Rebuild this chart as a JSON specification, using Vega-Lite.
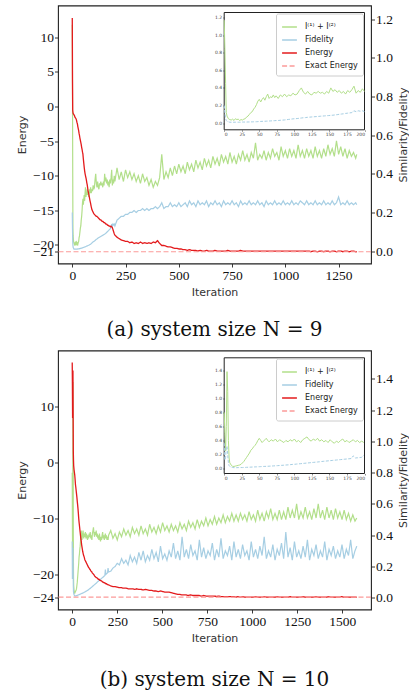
{
"$schema":"https://vega.github.io/schema/vega-lite/v6.json",
"background":"white",
"padding":{"left":15,"top":4.5,"right":0,"bottom":0},
"spacing":9,
"config":{
 "view":{"stroke":"#222","strokeWidth":1.1},
 "axis":{"domain":false,"grid":false,"tickColor":"#222","tickSize":3.5,"tickWidth":0.9,"labelFont":"Liberation Serif","labelFontSize":13.5,"labelColor":"#111","labelPadding":1,"titleFont":"DejaVu Sans","titleFontSize":11,"titleFontWeight":"normal","titleColor":"#333","titlePadding":5,"labelOverlap":false},
 "legend":{"symbolType":"stroke","symbolStrokeWidth":1.4,"symbolSize":220,"labelFont":"DejaVu Sans","labelFontSize":8,"labelColor":"#222","rowPadding":-1.5,"padding":5,"fillColor":"white","strokeColor":"#cccccc","cornerRadius":2,"labelOffset":7,"labelLimit":200},
 "title":{"font":"DejaVu Serif","fontSize":20,"fontWeight":"normal","color":"#111"}
},
"resolve":{"scale":{"color":"independent","strokeDash":"independent"},"legend":{"color":"independent","strokeDash":"independent"}},
"datasets":{
"a":[
{"i":0,"e":12.8,"s":1.17,"f":0.2},{"i":1,"e":4.0,"s":0.85,"f":0.12},{"i":2,"e":-0.5,"s":0.45,"f":0.05},{"i":3,"e":-0.8,"s":0.12,"f":0.03},{"i":4,"e":-1.0,"s":0.08,"f":0.02},{"i":6,"e":-1.1,"s":0.05,"f":0.015},{"i":8,"e":-1.2,"s":0.04,"f":0.01},{"i":10,"e":-1.3,"s":0.035,"f":0.01},{"i":12,"e":-1.5,"s":0.045,"f":0.01},{"i":14,"e":-1.6,"s":0.03,"f":0.01},{"i":16,"e":-1.7,"s":0.05,"f":0.01},{"i":18,"e":-1.8,"s":0.04,"f":0.01},{"i":20,"e":-2.0,"s":0.045,"f":0.01},{"i":22,"e":-2.3,"s":0.03,"f":0.01},{"i":24,"e":-2.5,"s":0.04,"f":0.01},{"i":26,"e":-2.9,"s":0.035,"f":0.012},{"i":28,"e":-3.2,"s":0.045,"f":0.012},{"i":30,"e":-3.5,"s":0.05,"f":0.012},{"i":32,"e":-3.9,"s":0.07,"f":0.012},{"i":34,"e":-4.2,"s":0.08,"f":0.013},{"i":36,"e":-4.6,"s":0.1,"f":0.013},{"i":38,"e":-4.9,"s":0.12,"f":0.014},{"i":40,"e":-5.2,"s":0.13,"f":0.014},{"i":42,"e":-5.5,"s":0.16,"f":0.015},{"i":44,"e":-5.9,"s":0.18,"f":0.015},{"i":46,"e":-6.2,"s":0.21,"f":0.016},{"i":48,"e":-6.6,"s":0.25,"f":0.017},{"i":50,"e":-6.9,"s":0.27,"f":0.018},{"i":52,"e":-7.6,"s":0.24,"f":0.019},{"i":54,"e":-8.2,"s":0.27,"f":0.02},{"i":56,"e":-8.8,"s":0.29,"f":0.02},{"i":58,"e":-9.3,"s":0.26,"f":0.021},{"i":60,"e":-9.7,"s":0.3,"f":0.022},{"i":62,"e":-10.0,"s":0.33,"f":0.023},{"i":64,"e":-10.3,"s":0.28,"f":0.024},{"i":66,"e":-10.6,"s":0.3,"f":0.025},{"i":68,"e":-11.0,"s":0.29,"f":0.026},{"i":70,"e":-11.3,"s":0.32,"f":0.027},{"i":72,"e":-11.7,"s":0.29,"f":0.028},{"i":74,"e":-12.2,"s":0.31,"f":0.029},{"i":77,"e":-12.6,"s":0.28,"f":0.03},{"i":80,"e":-13.1,"s":0.32,"f":0.032},{"i":83,"e":-13.6,"s":0.3,"f":0.034},{"i":86,"e":-14.0,"s":0.33,"f":0.036},{"i":89,"e":-14.5,"s":0.3,"f":0.039},{"i":92,"e":-14.9,"s":0.32,"f":0.042},{"i":95,"e":-15.1,"s":0.31,"f":0.045},{"i":98,"e":-15.3,"s":0.34,"f":0.048},{"i":101,"e":-15.5,"s":0.32,"f":0.05},{"i":104,"e":-15.6,"s":0.33,"f":0.052},{"i":107,"e":-15.7,"s":0.37,"f":0.055},{"i":110,"e":-15.8,"s":0.4,"f":0.058},{"i":113,"e":-15.9,"s":0.35,"f":0.061},{"i":116,"e":-15.9,"s":0.33,"f":0.063},{"i":119,"e":-16.0,"s":0.36,"f":0.066},{"i":122,"e":-16.1,"s":0.33,"f":0.068},{"i":125,"e":-16.2,"s":0.32,"f":0.07},{"i":128,"e":-16.3,"s":0.35,"f":0.072},{"i":131,"e":-16.4,"s":0.34,"f":0.074},{"i":134,"e":-16.4,"s":0.36,"f":0.076},{"i":137,"e":-16.5,"s":0.34,"f":0.078},{"i":140,"e":-16.6,"s":0.35,"f":0.08},{"i":143,"e":-16.6,"s":0.33,"f":0.082},{"i":146,"e":-16.7,"s":0.36,"f":0.084},{"i":149,"e":-16.8,"s":0.34,"f":0.086},{"i":152,"e":-16.8,"s":0.4,"f":0.088},{"i":155,"e":-16.9,"s":0.36,"f":0.09},{"i":158,"e":-17.0,"s":0.38,"f":0.093},{"i":161,"e":-17.0,"s":0.35,"f":0.096},{"i":164,"e":-17.1,"s":0.37,"f":0.1},{"i":167,"e":-17.2,"s":0.34,"f":0.103},{"i":170,"e":-17.2,"s":0.36,"f":0.106},{"i":173,"e":-17.3,"s":0.33,"f":0.11},{"i":176,"e":-17.3,"s":0.37,"f":0.113},{"i":179,"e":-17.4,"s":0.35,"f":0.116},{"i":182,"e":-17.3,"s":0.38,"f":0.12},{"i":185,"e":-17.4,"s":0.42,"f":0.14},{"i":188,"e":-17.5,"s":0.34,"f":0.13},{"i":191,"e":-17.8,"s":0.37,"f":0.14},{"i":194,"e":-18.1,"s":0.35,"f":0.135},{"i":197,"e":-18.4,"s":0.39,"f":0.14},{"i":200,"e":-18.6,"s":0.36,"f":0.13},
{"i":210,"e":-18.9,"s":0.43,"f":0.16},{"i":220,"e":-19.1,"s":0.37,"f":0.17},{"i":230,"e":-19.3,"s":0.41,"f":0.18},{"i":240,"e":-19.4,"s":0.36,"f":0.18},{"i":250,"e":-19.5,"s":0.42,"f":0.19},{"i":260,"e":-19.5,"s":0.38,"f":0.19},{"i":270,"e":-19.7,"s":0.41,"f":0.2},{"i":280,"e":-19.6,"s":0.37,"f":0.2},{"i":290,"e":-19.8,"s":0.4,"f":0.21},{"i":300,"e":-19.7,"s":0.36,"f":0.2},{"i":310,"e":-19.8,"s":0.39,"f":0.21},{"i":320,"e":-19.6,"s":0.35,"f":0.21},{"i":330,"e":-19.8,"s":0.4,"f":0.22},{"i":340,"e":-19.7,"s":0.36,"f":0.21},{"i":350,"e":-19.8,"s":0.38,"f":0.22},{"i":360,"e":-19.7,"s":0.34,"f":0.21},{"i":370,"e":-19.8,"s":0.37,"f":0.22},{"i":380,"e":-19.6,"s":0.33,"f":0.22},{"i":390,"e":-19.7,"s":0.36,"f":0.23},{"i":400,"e":-19.4,"s":0.34,"f":0.22},{"i":410,"e":-19.8,"s":0.38,"f":0.23},{"i":420,"e":-20.1,"s":0.5,"f":0.25},{"i":430,"e":-20.1,"s":0.37,"f":0.22},{"i":440,"e":-20.2,"s":0.41,"f":0.23},{"i":450,"e":-20.3,"s":0.38,"f":0.23},{"i":460,"e":-20.3,"s":0.43,"f":0.25},{"i":470,"e":-20.4,"s":0.39,"f":0.23},{"i":480,"e":-20.5,"s":0.44,"f":0.24},{"i":490,"e":-20.5,"s":0.4,"f":0.23},
{"i":500,"e":-20.6,"s":0.45,"f":0.25},{"i":510,"e":-20.6,"s":0.41,"f":0.23},{"i":520,"e":-20.7,"s":0.44,"f":0.24},{"i":530,"e":-20.7,"s":0.4,"f":0.25},{"i":540,"e":-20.8,"s":0.46,"f":0.23},{"i":550,"e":-20.7,"s":0.42,"f":0.26},{"i":560,"e":-20.8,"s":0.45,"f":0.24},{"i":570,"e":-20.8,"s":0.41,"f":0.25},{"i":580,"e":-20.8,"s":0.47,"f":0.23},{"i":590,"e":-20.9,"s":0.43,"f":0.26},{"i":600,"e":-20.8,"s":0.46,"f":0.24},{"i":610,"e":-20.9,"s":0.42,"f":0.25},{"i":620,"e":-20.9,"s":0.48,"f":0.24},{"i":630,"e":-20.8,"s":0.44,"f":0.26},{"i":640,"e":-20.9,"s":0.47,"f":0.23},{"i":650,"e":-20.9,"s":0.43,"f":0.25},{"i":660,"e":-20.9,"s":0.49,"f":0.24},{"i":670,"e":-20.8,"s":0.45,"f":0.26},{"i":680,"e":-20.9,"s":0.48,"f":0.24},{"i":690,"e":-20.9,"s":0.44,"f":0.25},{"i":700,"e":-20.9,"s":0.5,"f":0.23},{"i":710,"e":-20.9,"s":0.46,"f":0.26},{"i":720,"e":-20.9,"s":0.49,"f":0.24},{"i":730,"e":-20.8,"s":0.45,"f":0.25},{"i":740,"e":-20.9,"s":0.51,"f":0.24},{"i":750,"e":-20.9,"s":0.46,"f":0.26},{"i":760,"e":-20.9,"s":0.49,"f":0.24},{"i":770,"e":-20.9,"s":0.45,"f":0.25},{"i":780,"e":-20.9,"s":0.5,"f":0.23},{"i":790,"e":-20.8,"s":0.47,"f":0.26},{"i":800,"e":-20.9,"s":0.52,"f":0.24},{"i":810,"e":-20.9,"s":0.47,"f":0.25},{"i":820,"e":-20.9,"s":0.5,"f":0.24},{"i":830,"e":-20.9,"s":0.46,"f":0.26},{"i":840,"e":-20.9,"s":0.51,"f":0.24},{"i":850,"e":-20.9,"s":0.48,"f":0.25},{"i":860,"e":-20.9,"s":0.56,"f":0.24},{"i":870,"e":-20.9,"s":0.47,"f":0.26},{"i":880,"e":-20.9,"s":0.5,"f":0.24},{"i":890,"e":-20.9,"s":0.48,"f":0.25},{"i":900,"e":-20.9,"s":0.52,"f":0.23},{"i":910,"e":-20.9,"s":0.47,"f":0.26},{"i":920,"e":-20.9,"s":0.51,"f":0.24},{"i":930,"e":-20.9,"s":0.48,"f":0.25},{"i":940,"e":-20.9,"s":0.53,"f":0.24},{"i":950,"e":-20.9,"s":0.49,"f":0.26},{"i":960,"e":-20.9,"s":0.51,"f":0.24},{"i":970,"e":-20.9,"s":0.47,"f":0.25},{"i":980,"e":-20.9,"s":0.54,"f":0.24},{"i":990,"e":-20.9,"s":0.49,"f":0.26},{"i":1000,"e":-20.9,"s":0.52,"f":0.24},{"i":1010,"e":-20.9,"s":0.48,"f":0.25},{"i":1020,"e":-20.9,"s":0.53,"f":0.24},{"i":1030,"e":-20.9,"s":0.49,"f":0.26},{"i":1040,"e":-20.9,"s":0.52,"f":0.24},{"i":1050,"e":-20.9,"s":0.48,"f":0.25},{"i":1060,"e":-20.9,"s":0.55,"f":0.24},{"i":1070,"e":-20.9,"s":0.49,"f":0.26},{"i":1080,"e":-20.9,"s":0.52,"f":0.25},{"i":1090,"e":-20.9,"s":0.48,"f":0.24},{"i":1100,"e":-20.9,"s":0.53,"f":0.26},{"i":1110,"e":-20.9,"s":0.49,"f":0.24},{"i":1120,"e":-21.0,"s":0.52,"f":0.25},{"i":1130,"e":-20.9,"s":0.48,"f":0.24},{"i":1140,"e":-20.9,"s":0.54,"f":0.26},{"i":1150,"e":-21.0,"s":0.49,"f":0.24},{"i":1160,"e":-20.9,"s":0.52,"f":0.25},{"i":1170,"e":-20.9,"s":0.48,"f":0.24},{"i":1180,"e":-21.0,"s":0.53,"f":0.26},{"i":1190,"e":-20.9,"s":0.49,"f":0.24},{"i":1200,"e":-20.9,"s":0.55,"f":0.25},{"i":1210,"e":-21.0,"s":0.5,"f":0.24},{"i":1220,"e":-20.9,"s":0.53,"f":0.26},{"i":1230,"e":-20.9,"s":0.49,"f":0.24},{"i":1240,"e":-21.0,"s":0.57,"f":0.25},{"i":1250,"e":-20.9,"s":0.5,"f":0.28},{"i":1260,"e":-20.9,"s":0.54,"f":0.24},{"i":1270,"e":-21.0,"s":0.49,"f":0.25},{"i":1280,"e":-20.9,"s":0.53,"f":0.24},{"i":1290,"e":-20.9,"s":0.48,"f":0.26},{"i":1300,"e":-21.0,"s":0.52,"f":0.24},{"i":1310,"e":-20.9,"s":0.49,"f":0.25},{"i":1320,"e":-20.9,"s":0.51,"f":0.24},{"i":1330,"e":-21.0,"s":0.48,"f":0.25},{"i":1335,"e":-21.0,"s":0.5,"f":0.24}
],
"b":[
{"i":0,"e":17.9,"s":0.8,"f":0.36},{"i":1,"e":14.0,"s":0.5,"f":0.12},{"i":2,"e":8.0,"s":0.25,"f":0.16},{"i":3,"e":12.0,"s":0.6,"f":0.3},{"i":4,"e":16.5,"s":1.38,"f":0.32},{"i":5,"e":9.0,"s":1.1,"f":0.2},{"i":6,"e":2.0,"s":0.4,"f":0.08},{"i":7,"e":0.5,"s":0.15,"f":0.04},{"i":8,"e":-0.5,"s":0.08,"f":0.03},{"i":10,"e":-1.2,"s":0.05,"f":0.02},{"i":12,"e":-1.7,"s":0.03,"f":0.015},{"i":14,"e":-2.2,"s":0.03,"f":0.012},{"i":16,"e":-3.0,"s":0.035,"f":0.012},{"i":18,"e":-3.9,"s":0.04,"f":0.012},{"i":20,"e":-4.4,"s":0.045,"f":0.013},{"i":22,"e":-5.0,"s":0.05,"f":0.013},{"i":24,"e":-5.6,"s":0.06,"f":0.014},{"i":26,"e":-6.2,"s":0.08,"f":0.014},{"i":28,"e":-6.9,"s":0.1,"f":0.015},{"i":30,"e":-7.5,"s":0.13,"f":0.016},{"i":32,"e":-8.2,"s":0.16,"f":0.017},{"i":34,"e":-9.0,"s":0.19,"f":0.018},{"i":36,"e":-9.9,"s":0.22,"f":0.019},{"i":38,"e":-10.6,"s":0.26,"f":0.02},{"i":40,"e":-11.2,"s":0.28,"f":0.021},{"i":42,"e":-11.8,"s":0.31,"f":0.022},{"i":44,"e":-12.4,"s":0.33,"f":0.023},{"i":46,"e":-13.0,"s":0.36,"f":0.024},{"i":48,"e":-13.6,"s":0.4,"f":0.025},{"i":50,"e":-14.0,"s":0.43,"f":0.026},{"i":52,"e":-14.6,"s":0.4,"f":0.027},{"i":54,"e":-15.0,"s":0.37,"f":0.028},{"i":56,"e":-15.4,"s":0.39,"f":0.029},{"i":58,"e":-15.8,"s":0.41,"f":0.03},{"i":60,"e":-16.1,"s":0.43,"f":0.031},{"i":62,"e":-16.4,"s":0.4,"f":0.032},{"i":64,"e":-16.6,"s":0.38,"f":0.033},{"i":67,"e":-16.9,"s":0.41,"f":0.035},{"i":70,"e":-17.3,"s":0.39,"f":0.037},{"i":73,"e":-17.5,"s":0.42,"f":0.039},{"i":76,"e":-17.7,"s":0.38,"f":0.041},{"i":79,"e":-17.9,"s":0.41,"f":0.043},{"i":82,"e":-18.1,"s":0.39,"f":0.045},{"i":85,"e":-18.3,"s":0.37,"f":0.047},{"i":88,"e":-18.5,"s":0.4,"f":0.05},{"i":91,"e":-18.7,"s":0.38,"f":0.052},{"i":94,"e":-18.8,"s":0.41,"f":0.055},{"i":97,"e":-19.0,"s":0.39,"f":0.058},{"i":100,"e":-19.1,"s":0.42,"f":0.06},{"i":103,"e":-19.3,"s":0.38,"f":0.063},{"i":106,"e":-19.4,"s":0.4,"f":0.066},{"i":109,"e":-19.5,"s":0.37,"f":0.069},{"i":112,"e":-19.7,"s":0.41,"f":0.072},{"i":115,"e":-19.8,"s":0.43,"f":0.075},{"i":118,"e":-19.9,"s":0.45,"f":0.078},{"i":121,"e":-20.0,"s":0.41,"f":0.081},{"i":124,"e":-20.2,"s":0.39,"f":0.084},{"i":127,"e":-20.3,"s":0.42,"f":0.087},{"i":130,"e":-20.4,"s":0.4,"f":0.09},{"i":133,"e":-20.5,"s":0.43,"f":0.093},{"i":136,"e":-20.5,"s":0.39,"f":0.096},{"i":139,"e":-20.6,"s":0.41,"f":0.1},{"i":142,"e":-20.7,"s":0.38,"f":0.103},{"i":145,"e":-20.8,"s":0.4,"f":0.106},{"i":148,"e":-20.8,"s":0.37,"f":0.109},{"i":151,"e":-20.9,"s":0.41,"f":0.112},{"i":154,"e":-21.0,"s":0.38,"f":0.115},{"i":157,"e":-21.0,"s":0.36,"f":0.118},{"i":160,"e":-21.1,"s":0.39,"f":0.121},{"i":163,"e":-21.1,"s":0.37,"f":0.124},{"i":166,"e":-21.2,"s":0.4,"f":0.127},{"i":169,"e":-21.3,"s":0.42,"f":0.13},{"i":172,"e":-21.3,"s":0.38,"f":0.133},{"i":175,"e":-21.4,"s":0.4,"f":0.136},{"i":178,"e":-21.4,"s":0.37,"f":0.139},{"i":181,"e":-21.5,"s":0.39,"f":0.142},{"i":184,"e":-21.5,"s":0.41,"f":0.18},{"i":187,"e":-21.6,"s":0.38,"f":0.15},{"i":190,"e":-21.6,"s":0.4,"f":0.153},{"i":193,"e":-21.7,"s":0.37,"f":0.156},{"i":196,"e":-21.7,"s":0.39,"f":0.16},{"i":199,"e":-21.8,"s":0.37,"f":0.19},{"i":202,"e":-21.8,"s":0.4,"f":0.165},
{"i":214,"e":-22.0,"s":0.43,"f":0.17},{"i":226,"e":-22.1,"s":0.38,"f":0.19},{"i":238,"e":-22.1,"s":0.41,"f":0.2},{"i":250,"e":-22.2,"s":0.37,"f":0.22},{"i":262,"e":-22.3,"s":0.42,"f":0.21},{"i":274,"e":-22.3,"s":0.39,"f":0.25},{"i":286,"e":-22.4,"s":0.44,"f":0.22},{"i":298,"e":-22.4,"s":0.4,"f":0.24},{"i":310,"e":-22.5,"s":0.43,"f":0.21},{"i":322,"e":-22.5,"s":0.39,"f":0.27},{"i":334,"e":-22.5,"s":0.45,"f":0.23},{"i":346,"e":-22.6,"s":0.41,"f":0.26},{"i":358,"e":-22.5,"s":0.44,"f":0.22},{"i":370,"e":-22.6,"s":0.4,"f":0.29},{"i":382,"e":-22.6,"s":0.46,"f":0.24},{"i":394,"e":-22.7,"s":0.41,"f":0.3},{"i":406,"e":-22.6,"s":0.44,"f":0.23},{"i":418,"e":-22.7,"s":0.4,"f":0.27},{"i":430,"e":-22.8,"s":0.47,"f":0.24},{"i":442,"e":-22.8,"s":0.42,"f":0.31},{"i":454,"e":-22.9,"s":0.45,"f":0.25},{"i":466,"e":-22.9,"s":0.41,"f":0.29},{"i":478,"e":-23.0,"s":0.46,"f":0.23},{"i":490,"e":-22.9,"s":0.42,"f":0.33},{"i":502,"e":-23.0,"s":0.48,"f":0.25},{"i":514,"e":-23.1,"s":0.43,"f":0.28},{"i":526,"e":-23.1,"s":0.46,"f":0.24},{"i":538,"e":-23.1,"s":0.42,"f":0.3},{"i":550,"e":-23.2,"s":0.47,"f":0.26},{"i":562,"e":-23.3,"s":0.43,"f":0.35},{"i":574,"e":-23.4,"s":0.46,"f":0.25},{"i":586,"e":-23.5,"s":0.42,"f":0.3},{"i":598,"e":-23.5,"s":0.48,"f":0.24},{"i":610,"e":-23.6,"s":0.44,"f":0.39},{"i":622,"e":-23.6,"s":0.47,"f":0.26},{"i":634,"e":-23.6,"s":0.43,"f":0.31},{"i":646,"e":-23.7,"s":0.49,"f":0.25},{"i":658,"e":-23.6,"s":0.45,"f":0.34},{"i":670,"e":-23.7,"s":0.48,"f":0.27},{"i":682,"e":-23.7,"s":0.44,"f":0.3},{"i":694,"e":-23.7,"s":0.5,"f":0.24},{"i":706,"e":-23.7,"s":0.45,"f":0.37},{"i":718,"e":-23.8,"s":0.49,"f":0.26},{"i":730,"e":-23.7,"s":0.46,"f":0.32},{"i":742,"e":-23.8,"s":0.51,"f":0.25},{"i":754,"e":-23.8,"s":0.46,"f":0.3},{"i":766,"e":-23.8,"s":0.5,"f":0.27},{"i":778,"e":-23.8,"s":0.47,"f":0.35},{"i":790,"e":-23.8,"s":0.52,"f":0.24},{"i":802,"e":-23.9,"s":0.47,"f":0.31},{"i":814,"e":-23.8,"s":0.51,"f":0.26},{"i":826,"e":-23.9,"s":0.48,"f":0.38},{"i":838,"e":-23.9,"s":0.53,"f":0.25},{"i":850,"e":-23.9,"s":0.48,"f":0.3},{"i":862,"e":-23.9,"s":0.52,"f":0.27},{"i":874,"e":-23.9,"s":0.49,"f":0.33},{"i":886,"e":-23.9,"s":0.54,"f":0.24},{"i":898,"e":-23.9,"s":0.49,"f":0.36},{"i":910,"e":-24.0,"s":0.53,"f":0.26},{"i":922,"e":-23.9,"s":0.49,"f":0.31},{"i":934,"e":-24.0,"s":0.54,"f":0.25},{"i":946,"e":-23.9,"s":0.5,"f":0.34},{"i":958,"e":-24.0,"s":0.53,"f":0.27},{"i":970,"e":-24.0,"s":0.49,"f":0.3},{"i":982,"e":-24.0,"s":0.55,"f":0.24},{"i":994,"e":-24.0,"s":0.5,"f":0.36},{"i":1006,"e":-24.0,"s":0.53,"f":0.26},{"i":1018,"e":-23.9,"s":0.49,"f":0.31},{"i":1030,"e":-24.0,"s":0.56,"f":0.25},{"i":1042,"e":-24.0,"s":0.5,"f":0.33},{"i":1054,"e":-24.0,"s":0.54,"f":0.27},{"i":1066,"e":-23.9,"s":0.49,"f":0.39},{"i":1078,"e":-24.0,"s":0.55,"f":0.25},{"i":1090,"e":-24.0,"s":0.51,"f":0.3},{"i":1102,"e":-24.0,"s":0.57,"f":0.26},{"i":1114,"e":-24.0,"s":0.5,"f":0.34},{"i":1126,"e":-24.0,"s":0.54,"f":0.24},{"i":1138,"e":-23.9,"s":0.5,"f":0.31},{"i":1150,"e":-24.0,"s":0.56,"f":0.27},{"i":1162,"e":-24.0,"s":0.5,"f":0.35},{"i":1174,"e":-24.0,"s":0.55,"f":0.25},{"i":1186,"e":-24.0,"s":0.5,"f":0.42},{"i":1198,"e":-24.0,"s":0.58,"f":0.26},{"i":1210,"e":-23.9,"s":0.51,"f":0.32},{"i":1222,"e":-24.0,"s":0.56,"f":0.24},{"i":1234,"e":-24.0,"s":0.51,"f":0.36},{"i":1246,"e":-24.0,"s":0.6,"f":0.26},{"i":1258,"e":-24.0,"s":0.5,"f":0.3},{"i":1270,"e":-24.0,"s":0.55,"f":0.25},{"i":1282,"e":-23.9,"s":0.51,"f":0.33},{"i":1294,"e":-24.0,"s":0.58,"f":0.26},{"i":1306,"e":-24.0,"s":0.51,"f":0.37},{"i":1318,"e":-24.0,"s":0.55,"f":0.24},{"i":1330,"e":-24.0,"s":0.5,"f":0.31},{"i":1342,"e":-24.0,"s":0.57,"f":0.27},{"i":1354,"e":-23.9,"s":0.51,"f":0.34},{"i":1366,"e":-24.0,"s":0.6,"f":0.25},{"i":1378,"e":-24.0,"s":0.51,"f":0.3},{"i":1390,"e":-24.0,"s":0.56,"f":0.26},{"i":1402,"e":-24.0,"s":0.5,"f":0.36},{"i":1414,"e":-24.0,"s":0.58,"f":0.24},{"i":1426,"e":-23.9,"s":0.51,"f":0.31},{"i":1438,"e":-24.0,"s":0.56,"f":0.27},{"i":1450,"e":-24.0,"s":0.5,"f":0.33},{"i":1462,"e":-24.0,"s":0.57,"f":0.25},{"i":1474,"e":-24.0,"s":0.51,"f":0.3},{"i":1486,"e":-24.0,"s":0.55,"f":0.26},{"i":1498,"e":-23.9,"s":0.5,"f":0.34},{"i":1510,"e":-24.0,"s":0.56,"f":0.25},{"i":1522,"e":-24.0,"s":0.5,"f":0.31},{"i":1534,"e":-24.0,"s":0.54,"f":0.27},{"i":1546,"e":-24.0,"s":0.49,"f":0.37},{"i":1558,"e":-24.0,"s":0.53,"f":0.25},{"i":1570,"e":-24.0,"s":0.49,"f":0.3},{"i":1580,"e":-24.0,"s":0.51,"f":0.33}
]
},
"vconcat":[
{
 "width":313,"height":258,
 "title":{"text":"(a) system size N = 9","orient":"bottom","offset":22},
 "data":{"name":"a"},
 "layer":[
  {"layer":[
    {"layer":[
      {"mark":{"type":"line","strokeWidth":1.2},
       "encoding":{
        "x":{"field":"i","type":"quantitative","scale":{"domain":[-67,1402],"nice":false,"zero":false},"axis":{"values":[0,250,500,750,1000,1250],"format":"d","title":"Iteration","orient":"bottom"}},
        "y":{"field":"s","type":"quantitative","scale":{"domain":[-0.064,1.27],"nice":false,"zero":false},"axis":{"values":[0,0.2,0.4,0.6,0.8,1.0,1.2],"format":".1f","title":"Similarity/Fidelity","orient":"right","titleAngle":270,"titleBaseline":"top"}},
        "color":{"datum":"I⁽¹⁾ + I⁽²⁾","scale":{"domain":["I⁽¹⁾ + I⁽²⁾","Fidelity","Energy","Exact Energy"],"range":["#b2df8a","#a6cee3","#e31a1c","#fb9a99"]},"legend":{"title":null,"orient":"top-right","offset":8}},
        "strokeDash":{"datum":"I⁽¹⁾ + I⁽²⁾","scale":{"domain":["I⁽¹⁾ + I⁽²⁾","Fidelity","Energy","Exact Energy"],"range":[[1,0],[1,0],[1,0],[5,2.5]]},"legend":{"title":null,"orient":"top-right","offset":8}}
       }},
      {"mark":{"type":"line","strokeWidth":1.2},
       "encoding":{
        "x":{"field":"i","type":"quantitative","scale":{"domain":[-67,1402],"nice":false,"zero":false},"axis":{"values":[0,250,500,750,1000,1250],"format":"d","title":"Iteration","orient":"bottom"}},
        "y":{"field":"f","type":"quantitative","scale":{"domain":[-0.064,1.27],"nice":false,"zero":false},"axis":{"values":[0,0.2,0.4,0.6,0.8,1.0,1.2],"format":".1f","title":"Similarity/Fidelity","orient":"right","titleAngle":270,"titleBaseline":"top"}},
        "color":{"datum":"Fidelity","scale":{"domain":["I⁽¹⁾ + I⁽²⁾","Fidelity","Energy","Exact Energy"],"range":["#b2df8a","#a6cee3","#e31a1c","#fb9a99"]},"legend":{"title":null,"orient":"top-right","offset":8}},
        "strokeDash":{"datum":"Fidelity","scale":{"domain":["I⁽¹⁾ + I⁽²⁾","Fidelity","Energy","Exact Energy"],"range":[[1,0],[1,0],[1,0],[5,2.5]]},"legend":{"title":null,"orient":"top-right","offset":8}}
       }}
    ]},
    {"layer":[
      {"mark":{"type":"line","strokeWidth":1.3},
       "encoding":{
        "x":{"field":"i","type":"quantitative","scale":{"domain":[-67,1402],"nice":false,"zero":false},"axis":{"values":[0,250,500,750,1000,1250],"format":"d","title":"Iteration","orient":"bottom"}},
        "y":{"field":"e","type":"quantitative","scale":{"domain":[-22.7,14.6],"nice":false,"zero":false},"axis":{"values":[-21,-20,-15,-10,-5,0,5,10],"title":"Energy","orient":"left"}},
        "color":{"datum":"Energy","scale":{"domain":["I⁽¹⁾ + I⁽²⁾","Fidelity","Energy","Exact Energy"],"range":["#b2df8a","#a6cee3","#e31a1c","#fb9a99"]},"legend":{"title":null,"orient":"top-right","offset":8}},
        "strokeDash":{"datum":"Energy","scale":{"domain":["I⁽¹⁾ + I⁽²⁾","Fidelity","Energy","Exact Energy"],"range":[[1,0],[1,0],[1,0],[5,2.5]]},"legend":{"title":null,"orient":"top-right","offset":8}}
       }},
      {"data":{"values":[{}]},
       "mark":{"type":"rule","strokeWidth":1.2},
       "encoding":{
        "y":{"datum":-21.0,"type":"quantitative","scale":{"domain":[-22.7,14.6],"nice":false,"zero":false},"axis":{"values":[-21,-20,-15,-10,-5,0,5,10],"title":"Energy","orient":"left"}},
        "color":{"datum":"Exact Energy","scale":{"domain":["I⁽¹⁾ + I⁽²⁾","Fidelity","Energy","Exact Energy"],"range":["#b2df8a","#a6cee3","#e31a1c","#fb9a99"]},"legend":{"title":null,"orient":"top-right","offset":8}},
        "strokeDash":{"datum":"Exact Energy","scale":{"domain":["I⁽¹⁾ + I⁽²⁾","Fidelity","Energy","Exact Energy"],"range":[[1,0],[1,0],[1,0],[5,2.5]]},"legend":{"title":null,"orient":"top-right","offset":8}}
       }}
    ]}
   ],
   "resolve":{"scale":{"y":"independent"}}
  },
  {"layer":[
    {"data":{"values":[{}]},
     "mark":{"type":"rect","filled":false,"stroke":"#222","strokeWidth":1},
     "encoding":{
      "x":{"datum":0,"type":"quantitative","scale":{"domain":[0,200],"range":[166.2,306.5],"nice":false,"zero":false},"axis":{"values":[0,25,50,75,100,125,150,175,200],"orient":"bottom","offset":-133.7,"title":null,"labelFont":"DejaVu Sans","labelFontSize":4.5,"labelColor":"#444","tickSize":1.5,"tickWidth":0.5,"labelPadding":0.5}},
      "x2":{"datum":200},
      "y":{"datum":-0.076,"type":"quantitative","scale":{"domain":[-0.076,1.257],"range":[124.3,7],"nice":false,"zero":false},"axis":{"values":[0,0.2,0.4,0.6,0.8,1.0,1.2],"format":".1f","orient":"left","offset":-166.2,"title":null,"labelFont":"DejaVu Sans","labelFontSize":4.5,"labelColor":"#444","tickSize":1.5,"tickWidth":0.5,"labelPadding":1}},
      "y2":{"datum":1.257}
     }},
    {"transform":[{"filter":"datum.i <= 200"}],
     "mark":{"type":"line","strokeWidth":1},
     "encoding":{
      "x":{"field":"i","type":"quantitative","scale":{"domain":[0,200],"range":[166.2,306.5],"nice":false,"zero":false},"axis":{"values":[0,25,50,75,100,125,150,175,200],"orient":"bottom","offset":-133.7,"title":null,"labelFont":"DejaVu Sans","labelFontSize":4.5,"labelColor":"#444","tickSize":1.5,"tickWidth":0.5,"labelPadding":0.5}},
      "y":{"field":"s","type":"quantitative","scale":{"domain":[-0.076,1.257],"range":[124.3,7],"nice":false,"zero":false},"axis":{"values":[0,0.2,0.4,0.6,0.8,1.0,1.2],"format":".1f","orient":"left","offset":-166.2,"title":null,"labelFont":"DejaVu Sans","labelFontSize":4.5,"labelColor":"#444","tickSize":1.5,"tickWidth":0.5,"labelPadding":1}},
      "color":{"datum":"I⁽¹⁾ + I⁽²⁾","scale":{"domain":["I⁽¹⁾ + I⁽²⁾","Fidelity","Energy","Exact Energy"],"range":["#b2df8a","#a6cee3","#e31a1c","#fb9a99"]},"legend":{"title":null,"orient":"top-right","offset":8}}
     }},
    {"transform":[{"filter":"datum.i <= 200"}],
     "mark":{"type":"line","strokeWidth":1,"strokeDash":[3,1.5]},
     "encoding":{
      "x":{"field":"i","type":"quantitative","scale":{"domain":[0,200],"range":[166.2,306.5],"nice":false,"zero":false},"axis":{"values":[0,25,50,75,100,125,150,175,200],"orient":"bottom","offset":-133.7,"title":null,"labelFont":"DejaVu Sans","labelFontSize":4.5,"labelColor":"#444","tickSize":1.5,"tickWidth":0.5,"labelPadding":0.5}},
      "y":{"field":"f","type":"quantitative","scale":{"domain":[-0.076,1.257],"range":[124.3,7],"nice":false,"zero":false},"axis":{"values":[0,0.2,0.4,0.6,0.8,1.0,1.2],"format":".1f","orient":"left","offset":-166.2,"title":null,"labelFont":"DejaVu Sans","labelFontSize":4.5,"labelColor":"#444","tickSize":1.5,"tickWidth":0.5,"labelPadding":1}},
      "color":{"datum":"Fidelity","scale":{"domain":["I⁽¹⁾ + I⁽²⁾","Fidelity","Energy","Exact Energy"],"range":["#b2df8a","#a6cee3","#e31a1c","#fb9a99"]},"legend":{"title":null,"orient":"top-right","offset":8}}
     }}
  ]}
 ],
 "resolve":{"scale":{"x":"independent","y":"independent"}}
},
{
 "width":313,"height":259,
 "title":{"text":"(b) system size N = 10","orient":"bottom","offset":26},
 "data":{"name":"b"},
 "layer":[
  {"layer":[
    {"layer":[
      {"mark":{"type":"line","strokeWidth":1.2},
       "encoding":{
        "x":{"field":"i","type":"quantitative","scale":{"domain":[-79,1659],"nice":false,"zero":false},"axis":{"values":[0,250,500,750,1000,1250,1500],"format":"d","title":"Iteration","orient":"bottom"}},
        "y":{"field":"s","type":"quantitative","scale":{"domain":[-0.075,1.581],"nice":false,"zero":false},"axis":{"values":[0,0.2,0.4,0.6,0.8,1.0,1.2,1.4],"format":".1f","title":"Similarity/Fidelity","orient":"right","titleAngle":270,"titleBaseline":"top"}},
        "color":{"datum":"I⁽¹⁾ + I⁽²⁾","scale":{"domain":["I⁽¹⁾ + I⁽²⁾","Fidelity","Energy","Exact Energy"],"range":["#b2df8a","#a6cee3","#e31a1c","#fb9a99"]},"legend":{"title":null,"orient":"top-right","offset":8}},
        "strokeDash":{"datum":"I⁽¹⁾ + I⁽²⁾","scale":{"domain":["I⁽¹⁾ + I⁽²⁾","Fidelity","Energy","Exact Energy"],"range":[[1,0],[1,0],[1,0],[5,2.5]]},"legend":{"title":null,"orient":"top-right","offset":8}}
       }},
      {"mark":{"type":"line","strokeWidth":1.2},
       "encoding":{
        "x":{"field":"i","type":"quantitative","scale":{"domain":[-79,1659],"nice":false,"zero":false},"axis":{"values":[0,250,500,750,1000,1250,1500],"format":"d","title":"Iteration","orient":"bottom"}},
        "y":{"field":"f","type":"quantitative","scale":{"domain":[-0.075,1.581],"nice":false,"zero":false},"axis":{"values":[0,0.2,0.4,0.6,0.8,1.0,1.2,1.4],"format":".1f","title":"Similarity/Fidelity","orient":"right","titleAngle":270,"titleBaseline":"top"}},
        "color":{"datum":"Fidelity","scale":{"domain":["I⁽¹⁾ + I⁽²⁾","Fidelity","Energy","Exact Energy"],"range":["#b2df8a","#a6cee3","#e31a1c","#fb9a99"]},"legend":{"title":null,"orient":"top-right","offset":8}},
        "strokeDash":{"datum":"Fidelity","scale":{"domain":["I⁽¹⁾ + I⁽²⁾","Fidelity","Energy","Exact Energy"],"range":[[1,0],[1,0],[1,0],[5,2.5]]},"legend":{"title":null,"orient":"top-right","offset":8}}
       }}
    ]},
    {"layer":[
      {"mark":{"type":"line","strokeWidth":1.3},
       "encoding":{
        "x":{"field":"i","type":"quantitative","scale":{"domain":[-79,1659],"nice":false,"zero":false},"axis":{"values":[0,250,500,750,1000,1250,1500],"format":"d","title":"Iteration","orient":"bottom"}},
        "y":{"field":"e","type":"quantitative","scale":{"domain":[-26.2,20.05],"nice":false,"zero":false},"axis":{"values":[-24,-20,-10,0,10],"title":"Energy","orient":"left"}},
        "color":{"datum":"Energy","scale":{"domain":["I⁽¹⁾ + I⁽²⁾","Fidelity","Energy","Exact Energy"],"range":["#b2df8a","#a6cee3","#e31a1c","#fb9a99"]},"legend":{"title":null,"orient":"top-right","offset":8}},
        "strokeDash":{"datum":"Energy","scale":{"domain":["I⁽¹⁾ + I⁽²⁾","Fidelity","Energy","Exact Energy"],"range":[[1,0],[1,0],[1,0],[5,2.5]]},"legend":{"title":null,"orient":"top-right","offset":8}}
       }},
      {"data":{"values":[{}]},
       "mark":{"type":"rule","strokeWidth":1.2},
       "encoding":{
        "y":{"datum":-24.0,"type":"quantitative","scale":{"domain":[-26.2,20.05],"nice":false,"zero":false},"axis":{"values":[-24,-20,-10,0,10],"title":"Energy","orient":"left"}},
        "color":{"datum":"Exact Energy","scale":{"domain":["I⁽¹⁾ + I⁽²⁾","Fidelity","Energy","Exact Energy"],"range":["#b2df8a","#a6cee3","#e31a1c","#fb9a99"]},"legend":{"title":null,"orient":"top-right","offset":8}},
        "strokeDash":{"datum":"Exact Energy","scale":{"domain":["I⁽¹⁾ + I⁽²⁾","Fidelity","Energy","Exact Energy"],"range":[[1,0],[1,0],[1,0],[5,2.5]]},"legend":{"title":null,"orient":"top-right","offset":8}}
       }}
    ]}
   ],
   "resolve":{"scale":{"y":"independent"}}
  },
  {"layer":[
    {"data":{"values":[{}]},
     "mark":{"type":"rect","filled":false,"stroke":"#222","strokeWidth":1},
     "encoding":{
      "x":{"datum":0,"type":"quantitative","scale":{"domain":[0,200],"range":[166.2,306.5],"nice":false,"zero":false},"axis":{"values":[0,25,50,75,100,125,150,175,200],"orient":"bottom","offset":-136,"title":null,"labelFont":"DejaVu Sans","labelFontSize":4.5,"labelColor":"#444","tickSize":1.5,"tickWidth":0.5,"labelPadding":0.5}},
      "x2":{"datum":200},
      "y":{"datum":-0.071,"type":"quantitative","scale":{"domain":[-0.071,1.577],"range":[123,7.3],"nice":false,"zero":false},"axis":{"values":[0,0.2,0.4,0.6,0.8,1.0,1.2,1.4],"format":".1f","orient":"left","offset":-166.2,"title":null,"labelFont":"DejaVu Sans","labelFontSize":4.5,"labelColor":"#444","tickSize":1.5,"tickWidth":0.5,"labelPadding":1}},
      "y2":{"datum":1.577}
     }},
    {"transform":[{"filter":"datum.i <= 200"}],
     "mark":{"type":"line","strokeWidth":1},
     "encoding":{
      "x":{"field":"i","type":"quantitative","scale":{"domain":[0,200],"range":[166.2,306.5],"nice":false,"zero":false},"axis":{"values":[0,25,50,75,100,125,150,175,200],"orient":"bottom","offset":-136,"title":null,"labelFont":"DejaVu Sans","labelFontSize":4.5,"labelColor":"#444","tickSize":1.5,"tickWidth":0.5,"labelPadding":0.5}},
      "y":{"field":"s","type":"quantitative","scale":{"domain":[-0.071,1.577],"range":[123,7.3],"nice":false,"zero":false},"axis":{"values":[0,0.2,0.4,0.6,0.8,1.0,1.2,1.4],"format":".1f","orient":"left","offset":-166.2,"title":null,"labelFont":"DejaVu Sans","labelFontSize":4.5,"labelColor":"#444","tickSize":1.5,"tickWidth":0.5,"labelPadding":1}},
      "color":{"datum":"I⁽¹⁾ + I⁽²⁾","scale":{"domain":["I⁽¹⁾ + I⁽²⁾","Fidelity","Energy","Exact Energy"],"range":["#b2df8a","#a6cee3","#e31a1c","#fb9a99"]},"legend":{"title":null,"orient":"top-right","offset":8}}
     }},
    {"transform":[{"filter":"datum.i <= 200"}],
     "mark":{"type":"line","strokeWidth":1,"strokeDash":[3,1.5]},
     "encoding":{
      "x":{"field":"i","type":"quantitative","scale":{"domain":[0,200],"range":[166.2,306.5],"nice":false,"zero":false},"axis":{"values":[0,25,50,75,100,125,150,175,200],"orient":"bottom","offset":-136,"title":null,"labelFont":"DejaVu Sans","labelFontSize":4.5,"labelColor":"#444","tickSize":1.5,"tickWidth":0.5,"labelPadding":0.5}},
      "y":{"field":"f","type":"quantitative","scale":{"domain":[-0.071,1.577],"range":[123,7.3],"nice":false,"zero":false},"axis":{"values":[0,0.2,0.4,0.6,0.8,1.0,1.2,1.4],"format":".1f","orient":"left","offset":-166.2,"title":null,"labelFont":"DejaVu Sans","labelFontSize":4.5,"labelColor":"#444","tickSize":1.5,"tickWidth":0.5,"labelPadding":1}},
      "color":{"datum":"Fidelity","scale":{"domain":["I⁽¹⁾ + I⁽²⁾","Fidelity","Energy","Exact Energy"],"range":["#b2df8a","#a6cee3","#e31a1c","#fb9a99"]},"legend":{"title":null,"orient":"top-right","offset":8}}
     }}
  ]}
 ],
 "resolve":{"scale":{"x":"independent","y":"independent"}}
}
]
}
